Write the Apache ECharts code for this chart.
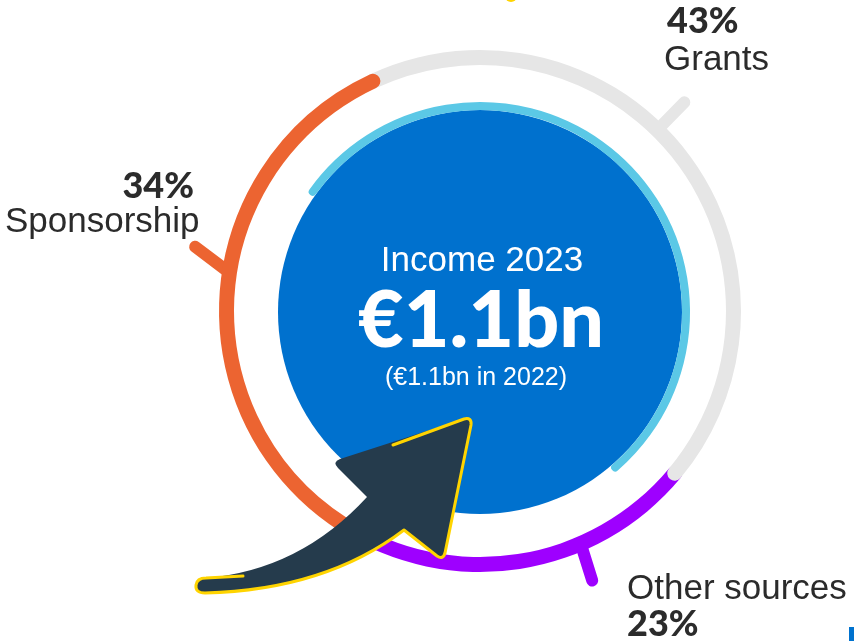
<!DOCTYPE html>
<html><head><meta charset="utf-8">
<style>html,body{margin:0;padding:0;background:#fff}#c{width:854px;height:641px}</style>
<script src="https://cdn.jsdelivr.net/npm/echarts@6/dist/echarts.min.js"></script>
</head><body><div id="c"></div>
<script>
// ---- data ----
const categories = ['Grants', 'Other sources', 'Sponsorship'];
const shares = [43, 23, 34];
const centerTitle = 'Income 2023';
const centerValue = '€1.1bn';
const centerNote = '(€1.1bn in 2022)';

// ---- style / layout ----
const colors = ['#E6E6E6', '#9E00FF', '#EC6431'];
const zOrder = [3, 2, 4];
const CX = 480, CY = 311;
const R_IN = 246, R_OUT = 261;
const START_ANGLE = 115;
const tickAngles = [[44.4, 44.4], [156.6, 157.4], [278.7, 282.7]]; // deg clockwise from top
const TICK_R0 = (R_IN + R_OUT) / 2, TICK_R1 = 292;
const TEXT = '#2B2B2B';
const SANS = '"Liberation Sans", Arial, sans-serif';
const HEAVY = 'Lato, "DejaVu Sans", sans-serif';

function pt(deg, r) {
  const a = (deg - 90) * Math.PI / 180;
  return [CX + r * Math.cos(a), CY + r * Math.sin(a)];
}

const chart = echarts.init(document.getElementById('c'), null, {renderer: 'canvas'});

const series = categories.map((name, i) => ({
  type: 'bar', name, coordinateSystem: 'polar', stack: 'ring',
  data: [shares[i]], roundCap: true, barWidth: '100%', z: zOrder[i],
  itemStyle: {color: colors[i]}, silent: true
}));

const ARROW_FILL = 'M206 578 Q300 570 367 497 L338 468 Q332 462 340 459 L464 419 Q472 417 471 425 L445 553 Q443 560 437 556 L404 530 Q325 590 205 593 Q195 593 196 585 Q197 578 206 578 Z';
const ARROW_EDGE = 'M243 576 L206 578 Q197 578 196 585 Q195 593 205 593 Q325 590 404 530 L437 556 Q443 560 445 553 L471 425 Q472 417 464 419 L393 445';
series.push({
  type: 'custom', coordinateSystem: 'none', data: [0], z: 80, silent: true,
  renderItem: () => ({type: 'group', children: [
    {type: 'path', shape: {pathData: ARROW_FILL}, style: {fill: '#253B4C'}},
    {type: 'path', shape: {pathData: ARROW_EDGE}, style: {fill: null, stroke: '#FFD400', lineWidth: 3, lineJoin: 'round', lineCap: 'round'}}
  ]})
});

const graphics = [];
// blue disc + light arc
graphics.push({type: 'circle', shape: {cx: CX, cy: CY + 1, r: 202}, style: {fill: '#0071CE'}, z: 1});
graphics.push({type: 'arc', shape: {cx: CX, cy: CY + 1, r: 206,
  startAngle: (305.7 - 90) * Math.PI / 180, endAngle: (139 + 360 - 90) * Math.PI / 180, clockwise: true},
  style: {stroke: '#5BC8E6', lineWidth: 8, lineCap: 'round', fill: null}, z: 2});
// ticks
tickAngles.forEach((ta, i) => {
  const p0 = pt(ta[0], TICK_R0), p1 = pt(ta[1], TICK_R1);
  graphics.push({type: 'line', shape: {x1: p0[0], y1: p0[1], x2: p1[0], y2: p1[1]},
    style: {stroke: colors[i], lineWidth: 12, lineCap: 'round'}, z: zOrder[i]});
});
// labels
function txt(text, x, y, size, weight, family, align, color) {
  graphics.push({type: 'text', x, y, z: 50, style: {text, fill: color || TEXT,
    font: `${weight} ${size}px ${family}`, textAlign: align, textVerticalAlign: 'middle'}});
}
txt(shares[0] + '%', 667, 21, 36, 900, HEAVY, 'left');
txt(categories[0], 664, 60, 35, 'normal', SANS, 'left');
txt(shares[2] + '%', 194, 186, 36, 900, HEAVY, 'right');
txt(categories[2], 5, 222, 35, 'normal', SANS, 'left');
txt(categories[1], 627, 589, 35, 'normal', SANS, 'left');
txt(shares[1] + '%', 627, 624, 36, 900, HEAVY, 'left');
txt(centerTitle, 482, 261, 35, 'normal', SANS, 'center', '#FFFFFF');
txt(centerValue, 481, 322, 79, 900, HEAVY, 'center', '#FFFFFF');
txt(centerNote, 476, 378, 25, 'normal', SANS, 'center', '#FFFFFF');

// misc decorations
graphics.push({type: 'circle', shape: {cx: 511, cy: -4, r: 6}, style: {fill: '#FFD400'}, z: 5});
graphics.push({type: 'rect', shape: {x: 849, y: 627, width: 12, height: 20}, style: {fill: '#0072CE'}, z: 5});

chart.setOption({
  animation: false,
  polar: {center: [CX, CY], radius: [R_IN, R_OUT]},
  angleAxis: {type: 'value', min: 0, max: 100, startAngle: START_ANGLE, clockwise: true, show: false},
  radiusAxis: {type: 'category', data: ['income'], show: false},
  series,
  graphic: {elements: graphics}
});
</script></body></html>
